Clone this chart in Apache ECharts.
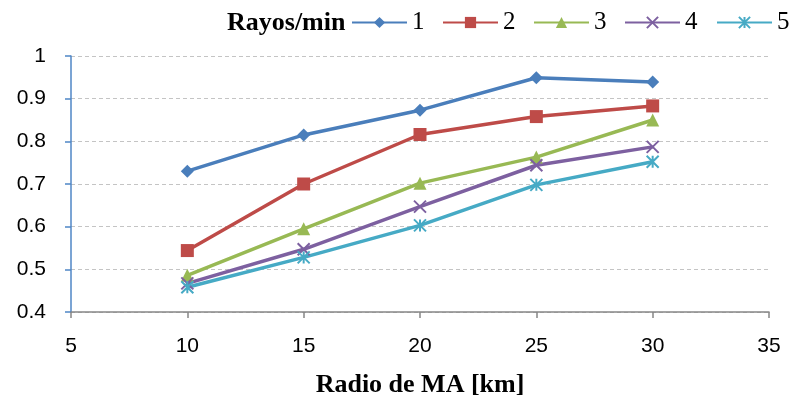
<!DOCTYPE html>
<html>
<head>
<meta charset="utf-8">
<script src="https://cdn.jsdelivr.net/npm/echarts@6/dist/echarts.min.js"></script>
<style>html,body{margin:0;padding:0;background:#fff}#c{width:790px;height:397px}</style>
</head>
<body>
<div id="c"></div>
<script>
const radios = [10, 15, 20, 25, 30];
const seriesNames = ['1', '2', '3', '4', '5'];
const rayos1 = [0.730, 0.815, 0.873, 0.949, 0.939];
const rayos2 = [0.544, 0.700, 0.816, 0.858, 0.883];
const rayos3 = [0.486, 0.595, 0.702, 0.763, 0.850];
const rayos4 = [0.467, 0.547, 0.647, 0.744, 0.787];
const rayos5 = [0.458, 0.528, 0.603, 0.698, 0.752];
const xTitle = 'Radio de MA [km]';
const legendTitle = 'Rayos/min';

const allValues = [rayos1, rayos2, rayos3, rayos4, rayos5];
const colors = ['#4A7EBB', '#BE4B48', '#98B954', '#7D60A0', '#46AAC5'];
const symbols = [
  'diamond',
  'rect',
  'triangle',
  'path://M0 0 L10 10 M10 0 L0 10',
  'path://M0 0 L10 10 M10 0 L0 10 M5 0 L5 10'
];
const symbolSizes = [13, 13, 13, 12, 12];
const legendLefts = [351, 442, 533, 624, 716];

const chart = echarts.init(document.getElementById('c'), null, {renderer: 'canvas'});
const series = seriesNames.map((n, i) => ({
  name: n,
  type: 'line',
  data: radios.map((x, j) => [x, allValues[i][j]]),
  symbol: symbols[i],
  symbolSize: symbolSizes[i],
  showSymbol: true,
  lineStyle: {color: colors[i], width: 3.5},
  itemStyle: {color: colors[i], borderColor: colors[i], borderWidth: i >= 3 ? 2 : 0},
  emphasis: {disabled: true},
  animation: false
}));

const legends = seriesNames.map((n, i) => ({
  left: legendLefts[i], top: 10, padding: 0,
  itemWidth: 55, itemHeight: 14,
  textStyle: {fontFamily: 'Liberation Serif', fontSize: 25, color: '#000'},
  data: [n],
  selectedMode: false
}));

chart.setOption({
  animation: false,
  color: colors,
  grid: {left: 71, right: 21, top: 56, bottom: 85, containLabel: false, outerBoundsMode: 'none'},
  graphic: [{
    type: 'text',
    left: 227, top: 10,
    style: {text: legendTitle, font: 'bold 26px "Liberation Serif"', fill: '#000'}
  }],
  legend: legends,
  xAxis: {
    type: 'value', min: 5, max: 35, interval: 5,
    name: xTitle, nameLocation: 'middle', nameGap: 60,
    nameTextStyle: {fontFamily: 'Liberation Serif', fontWeight: 'bold', fontSize: 26, color: '#000'},
    axisLine: {show: true, onZero: false, lineStyle: {color: '#868686', width: 1.5}},
    axisTick: {show: true, length: 6, lineStyle: {color: '#868686', width: 1.5}},
    axisLabel: {fontFamily: 'Liberation Sans', fontSize: 21, color: '#000', margin: 24},
    splitLine: {show: false}
  },
  yAxis: {
    type: 'value', min: 0.4, max: 1, interval: 0.1,
    axisLine: {show: true, lineStyle: {color: '#4F86C6', width: 1.5}},
    axisTick: {show: true, length: 6, lineStyle: {color: '#4F86C6', width: 1.5}},
    axisLabel: {fontFamily: 'Liberation Sans', fontSize: 21, color: '#000', margin: 25,
      formatter: v => String(Math.round(v * 10) / 10)},
    splitLine: {show: true, lineStyle: {color: '#C4C4C4', type: [4, 3], width: 1}}
  },
  series: series
});
</script>
</body>
</html>
